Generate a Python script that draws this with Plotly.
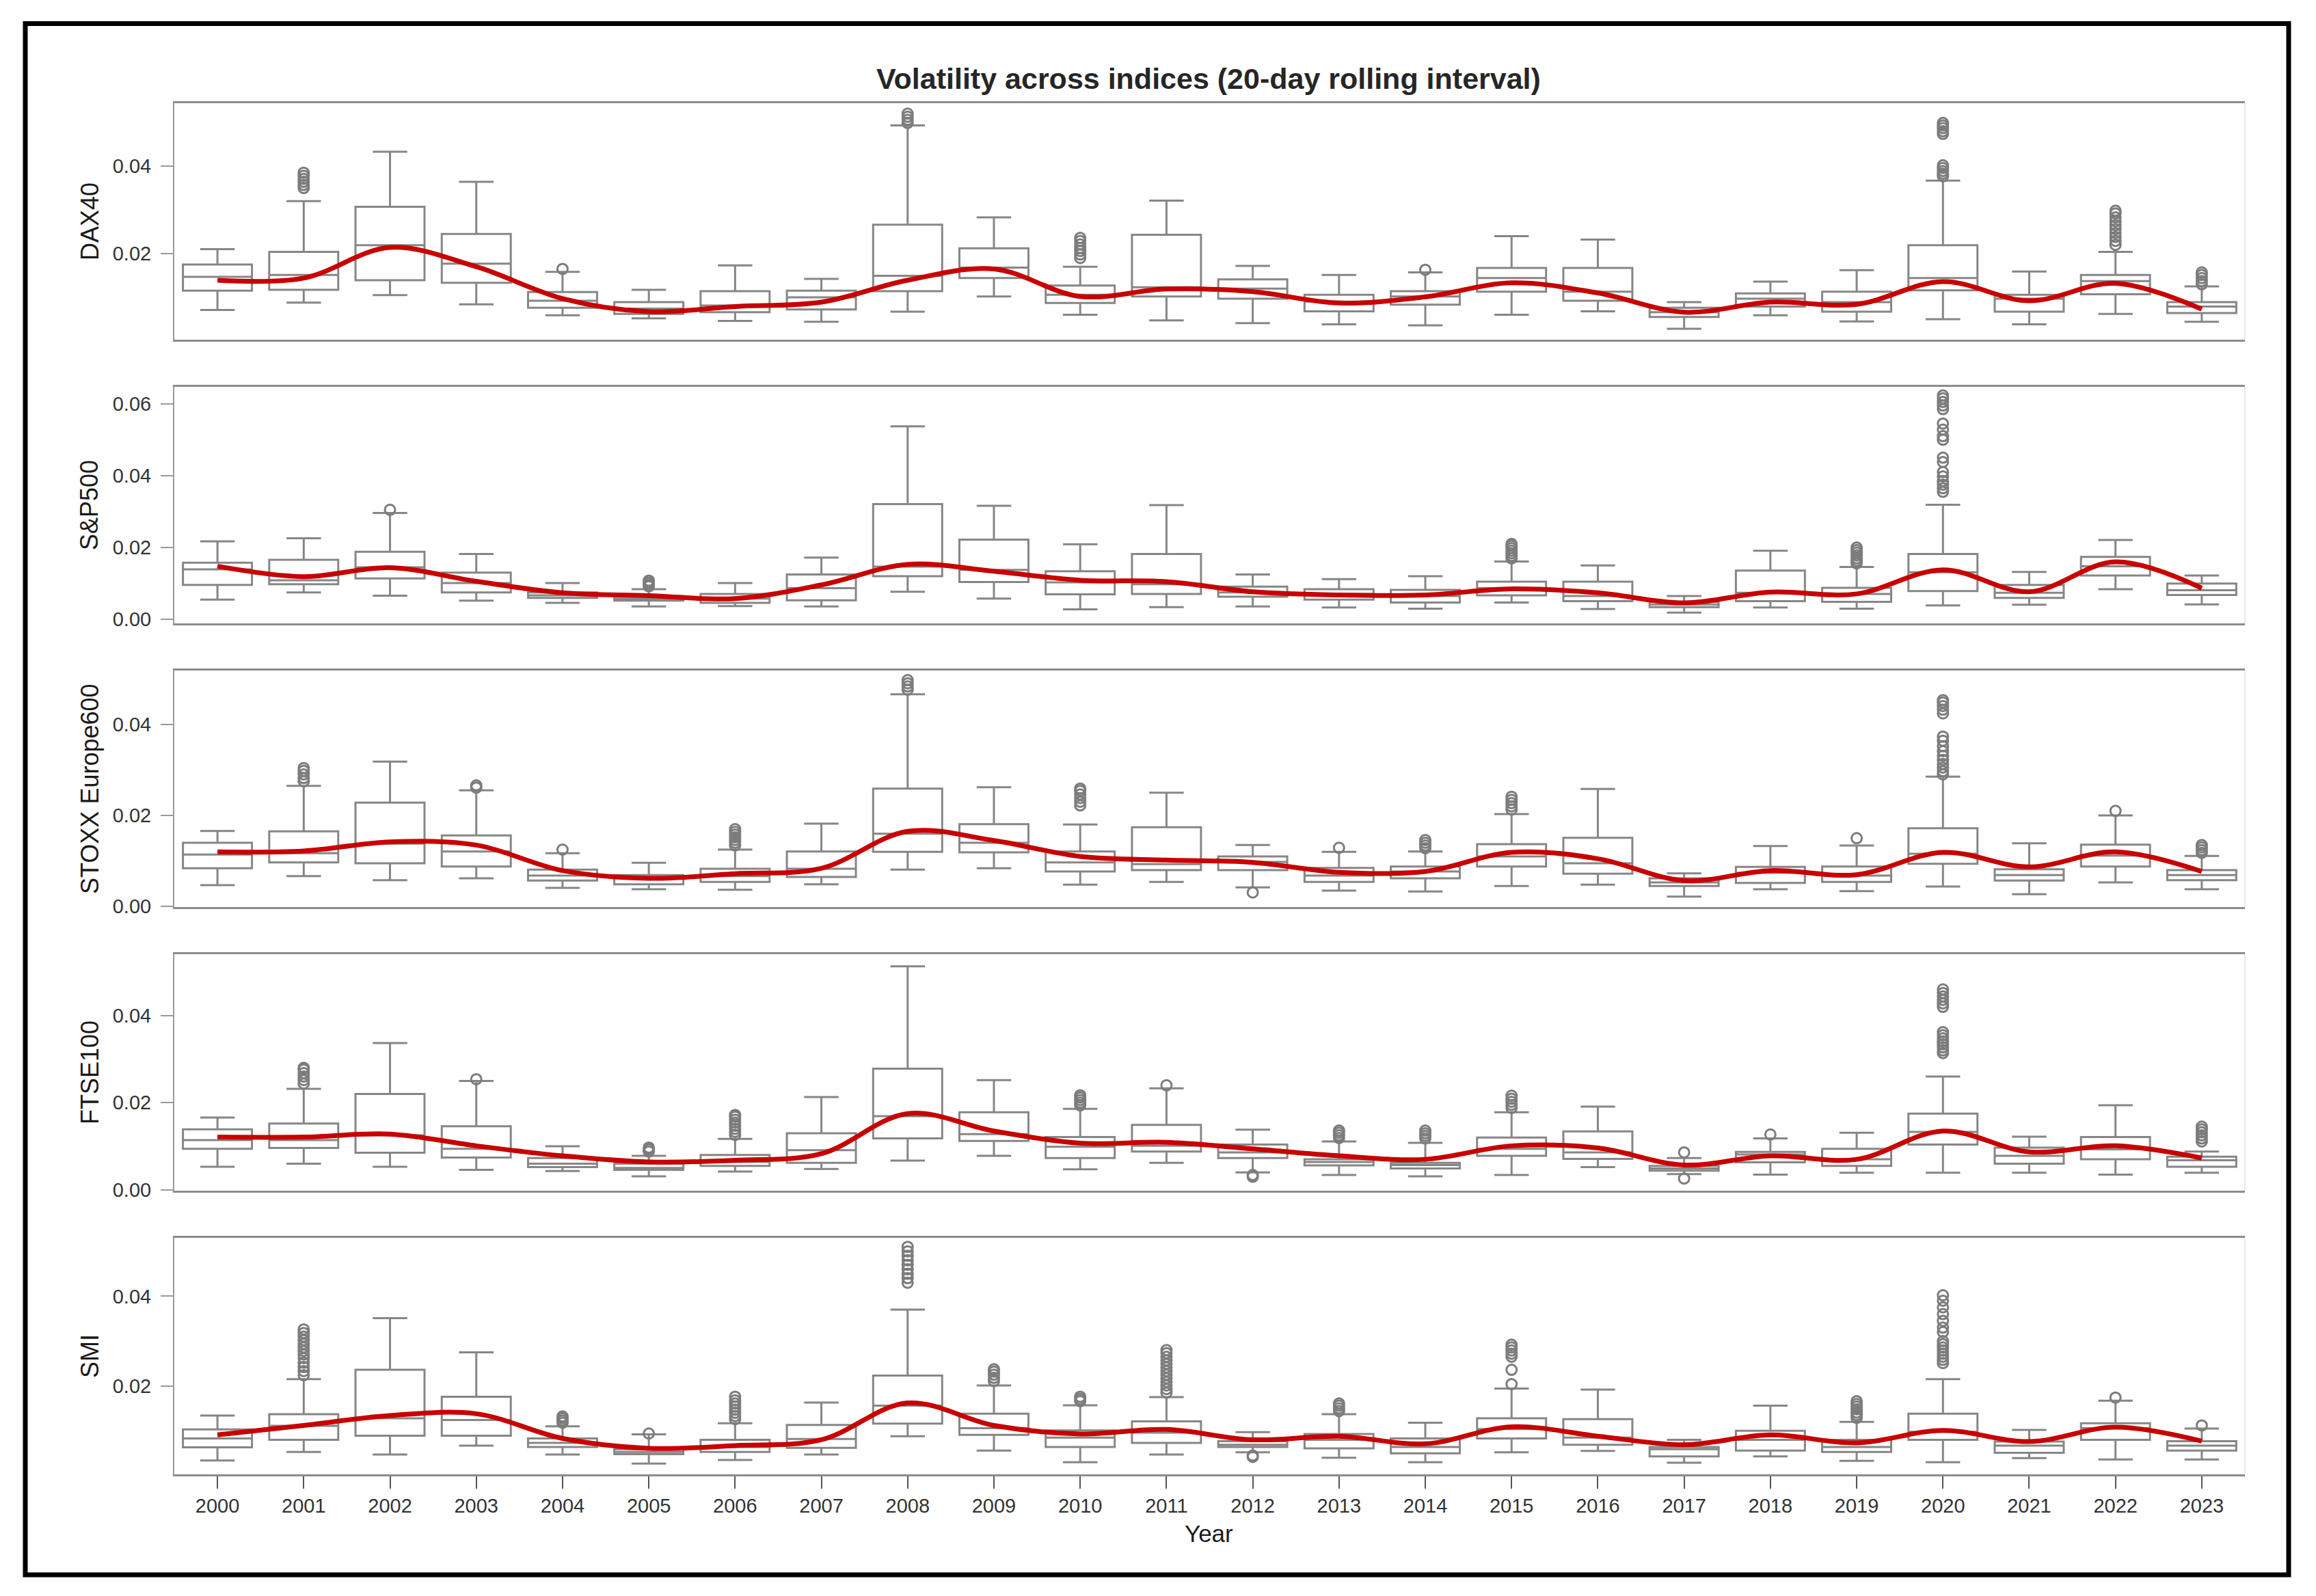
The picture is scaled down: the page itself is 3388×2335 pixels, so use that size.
import plotly.graph_objects as go
from plotly.subplots import make_subplots

years = list(range(2000, 2024))
index_names = ["DAX40", "S&P500", "STOXX Europe600", "FTSE100", "SMI"]

# ---------------- DAX40 ----------------
dax_low  = [0.0071,0.0088,0.0105,0.0084,0.0059,0.0052,0.0046,0.0044,0.0067,0.0102,0.0060,0.0047,0.0041,0.0038,0.0036,0.0060,0.0068,0.0028,0.0059,0.0045,0.0050,0.0038,0.0062,0.0044]
dax_q1   = [0.0115,0.0117,0.0139,0.0133,0.0076,0.0062,0.0066,0.0072,0.0114,0.0144,0.0087,0.0102,0.0097,0.0068,0.0083,0.0113,0.0092,0.0055,0.0079,0.0067,0.0116,0.0067,0.0107,0.0064]
dax_med  = [0.0147,0.0151,0.0219,0.0177,0.0092,0.0074,0.0081,0.0100,0.0149,0.0168,0.0106,0.0123,0.0120,0.0090,0.0102,0.0144,0.0113,0.0066,0.0097,0.0089,0.0144,0.0097,0.0137,0.0079]
dax_q3   = [0.0175,0.0204,0.0307,0.0245,0.0112,0.0089,0.0114,0.0115,0.0266,0.0212,0.0127,0.0243,0.0141,0.0106,0.0114,0.0167,0.0167,0.0076,0.0109,0.0113,0.0219,0.0106,0.0151,0.0089]
dax_high = [0.0210,0.0320,0.0433,0.0364,0.0158,0.0117,0.0173,0.0142,0.0493,0.0283,0.0170,0.0321,0.0172,0.0151,0.0157,0.0240,0.0232,0.0089,0.0136,0.0162,0.0367,0.0159,0.0204,0.0125]
dax_trend= [0.0139,0.0144,0.0214,0.0170,0.0097,0.0067,0.0079,0.0089,0.0139,0.0165,0.0102,0.0119,0.0113,0.0087,0.0101,0.0133,0.0110,0.0066,0.0089,0.0084,0.0136,0.0092,0.0132,0.0073]
dax_outliers = {
    2001: [0.0350, 0.0357, 0.0364, 0.0371, 0.0378, 0.0385],
    2004: [0.0165],
    2008: [0.0499, 0.0506, 0.0513, 0.0520],
    2010: [0.0190, 0.0198, 0.0206, 0.0213, 0.0221, 0.0229, 0.0236],
    2014: [0.0163],
    2020: [0.0377, 0.0383, 0.0389, 0.0396, 0.0402, 0.0474, 0.0480, 0.0487, 0.0493, 0.0499],
    2022: [0.0220, 0.0229, 0.0238, 0.0247, 0.0256, 0.0265, 0.0274, 0.0283, 0.0292, 0.0298],
    2023: [0.0130, 0.0137, 0.0144, 0.0151, 0.0157],
}

# ---------------- S&P500 ----------------
spx_low  = [0.0055,0.0075,0.0066,0.0052,0.0046,0.0036,0.0037,0.0036,0.0077,0.0058,0.0028,0.0034,0.0036,0.0033,0.0030,0.0047,0.0029,0.0019,0.0033,0.0030,0.0039,0.0041,0.0084,0.0042]
spx_q1   = [0.0096,0.0098,0.0114,0.0075,0.0060,0.0052,0.0046,0.0053,0.0120,0.0104,0.0070,0.0071,0.0063,0.0055,0.0047,0.0067,0.0051,0.0034,0.0051,0.0049,0.0079,0.0060,0.0122,0.0068]
spx_med  = [0.0139,0.0109,0.0145,0.0101,0.0067,0.0058,0.0058,0.0087,0.0147,0.0138,0.0103,0.0098,0.0075,0.0071,0.0065,0.0087,0.0065,0.0042,0.0074,0.0071,0.0131,0.0074,0.0148,0.0081]
spx_q3   = [0.0158,0.0166,0.0188,0.0130,0.0075,0.0065,0.0071,0.0125,0.0321,0.0222,0.0134,0.0182,0.0091,0.0084,0.0082,0.0105,0.0105,0.0049,0.0136,0.0088,0.0182,0.0096,0.0174,0.0100]
spx_high = [0.0217,0.0226,0.0296,0.0182,0.0101,0.0084,0.0101,0.0172,0.0537,0.0316,0.0209,0.0318,0.0125,0.0112,0.0120,0.0161,0.0150,0.0065,0.0191,0.0146,0.0319,0.0132,0.0221,0.0122]
spx_trend= [0.0148,0.0119,0.0144,0.0106,0.0074,0.0066,0.0058,0.0096,0.0153,0.0134,0.0109,0.0105,0.0077,0.0068,0.0068,0.0085,0.0074,0.0046,0.0076,0.0071,0.0138,0.0077,0.0160,0.0087]
spx_outliers = {
    2002: [0.0305],
    2005: [0.0092, 0.0097, 0.0102, 0.0108],
    2015: [0.0170, 0.0177, 0.0184, 0.0191, 0.0198, 0.0205, 0.0210],
    2019: [0.0156, 0.0163, 0.0170, 0.0178, 0.0186, 0.0193, 0.0200],
    2020: [0.0355, 0.0365, 0.0375, 0.0385, 0.0398, 0.0410, 0.0438, 0.0450, 0.0500, 0.0510,
           0.0528, 0.0545, 0.0585, 0.0595, 0.0605, 0.0615, 0.0623],
}

# ---------------- STOXX Europe600 ----------------
stoxx_low  = [0.0047,0.0067,0.0058,0.0062,0.0041,0.0038,0.0037,0.0049,0.0081,0.0084,0.0048,0.0054,0.0042,0.0035,0.0033,0.0045,0.0048,0.0022,0.0038,0.0034,0.0044,0.0027,0.0053,0.0038]
stoxx_q1   = [0.0084,0.0097,0.0095,0.0088,0.0057,0.0049,0.0054,0.0065,0.0120,0.0119,0.0077,0.0080,0.0080,0.0054,0.0062,0.0088,0.0072,0.0045,0.0052,0.0054,0.0094,0.0057,0.0088,0.0058]
stoxx_med  = [0.0114,0.0117,0.0138,0.0121,0.0068,0.0062,0.0067,0.0083,0.0160,0.0140,0.0097,0.0093,0.0098,0.0068,0.0077,0.0110,0.0095,0.0053,0.0074,0.0068,0.0116,0.0069,0.0112,0.0069]
stoxx_q3   = [0.0140,0.0165,0.0228,0.0156,0.0081,0.0069,0.0083,0.0121,0.0259,0.0181,0.0121,0.0174,0.0110,0.0085,0.0088,0.0137,0.0151,0.0062,0.0087,0.0088,0.0172,0.0082,0.0136,0.0080]
stoxx_high = [0.0166,0.0265,0.0318,0.0255,0.0117,0.0096,0.0125,0.0182,0.0466,0.0262,0.0180,0.0250,0.0135,0.0120,0.0121,0.0203,0.0258,0.0073,0.0133,0.0134,0.0285,0.0139,0.0200,0.0111]
stoxx_trend= [0.0120,0.0122,0.0142,0.0135,0.0079,0.0062,0.0072,0.0084,0.0165,0.0145,0.0110,0.0102,0.0097,0.0075,0.0077,0.0119,0.0105,0.0057,0.0079,0.0070,0.0119,0.0087,0.0120,0.0077]
stoxx_outliers = {
    2001: [0.0275, 0.0282, 0.0290, 0.0298, 0.0304],
    2003: [0.0261, 0.0266],
    2004: [0.0125],
    2006: [0.0134, 0.0140, 0.0146, 0.0152, 0.0158, 0.0164, 0.0170],
    2008: [0.0476, 0.0483, 0.0490, 0.0497],
    2010: [0.0222, 0.0230, 0.0238, 0.0246, 0.0254, 0.0259],
    2012: [0.0031],
    2013: [0.0129],
    2014: [0.0128, 0.0134, 0.0140, 0.0146],
    2015: [0.0213, 0.0220, 0.0227, 0.0234, 0.0241],
    2019: [0.0150],
    2020: [0.0290, 0.0297, 0.0305, 0.0313, 0.0322, 0.0331, 0.0341, 0.0352, 0.0364, 0.0373,
           0.0424, 0.0432, 0.0440, 0.0448, 0.0453],
    2022: [0.0210],
    2023: [0.0118, 0.0124, 0.0130, 0.0135],
}

# ---------------- FTSE100 ----------------
ftse_low  = [0.0053,0.0060,0.0053,0.0046,0.0043,0.0031,0.0042,0.0048,0.0067,0.0078,0.0047,0.0062,0.0040,0.0034,0.0031,0.0034,0.0052,0.0036,0.0035,0.0039,0.0039,0.0039,0.0035,0.0039]
ftse_q1   = [0.0094,0.0096,0.0085,0.0074,0.0052,0.0046,0.0055,0.0062,0.0118,0.0112,0.0073,0.0088,0.0073,0.0056,0.0049,0.0078,0.0071,0.0044,0.0063,0.0055,0.0104,0.0060,0.0070,0.0053]
ftse_med  = [0.0114,0.0114,0.0125,0.0094,0.0060,0.0050,0.0064,0.0091,0.0169,0.0128,0.0099,0.0101,0.0086,0.0064,0.0057,0.0094,0.0086,0.0049,0.0081,0.0070,0.0133,0.0078,0.0093,0.0068]
ftse_q3   = [0.0139,0.0152,0.0220,0.0146,0.0073,0.0060,0.0080,0.0130,0.0278,0.0178,0.0121,0.0149,0.0104,0.0070,0.0062,0.0120,0.0134,0.0055,0.0087,0.0094,0.0175,0.0097,0.0121,0.0076]
ftse_high = [0.0166,0.0232,0.0337,0.0250,0.0100,0.0078,0.0117,0.0213,0.0513,0.0252,0.0186,0.0233,0.0138,0.0111,0.0108,0.0178,0.0191,0.0073,0.0118,0.0131,0.0260,0.0122,0.0194,0.0088]
ftse_trend= [0.0121,0.0121,0.0128,0.0101,0.0078,0.0064,0.0068,0.0083,0.0175,0.0135,0.0107,0.0109,0.0094,0.0078,0.0070,0.0101,0.0096,0.0057,0.0078,0.0070,0.0135,0.0087,0.0101,0.0073]
ftse_outliers = {
    2001: [0.0244, 0.0252, 0.0260, 0.0268, 0.0276, 0.0280],
    2003: [0.0254],
    2005: [0.0088, 0.0093, 0.0097],
    2006: [0.0126, 0.0133, 0.0140, 0.0147, 0.0154, 0.0161, 0.0168, 0.0172],
    2010: [0.0194, 0.0200, 0.0206, 0.0212, 0.0217],
    2011: [0.0240],
    2012: [0.0030, 0.0034],
    2013: [0.0119, 0.0125, 0.0131, 0.0136],
    2014: [0.0118, 0.0124, 0.0130, 0.0136],
    2015: [0.0188, 0.0195, 0.0202, 0.0209, 0.0216],
    2017: [0.0086, 0.0026],
    2018: [0.0127],
    2020: [0.0314, 0.0320, 0.0327, 0.0334, 0.0341, 0.0348, 0.0355, 0.0362,
           0.0420, 0.0428, 0.0436, 0.0444, 0.0452, 0.0460],
    2023: [0.0111, 0.0118, 0.0125, 0.0132, 0.0139, 0.0145],
}

# ---------------- SMI ----------------
smi_low  = [0.0034,0.0053,0.0047,0.0067,0.0047,0.0027,0.0035,0.0047,0.0088,0.0056,0.0030,0.0047,0.0052,0.0040,0.0030,0.0052,0.0055,0.0029,0.0043,0.0033,0.0030,0.0039,0.0036,0.0036]
smi_q1   = [0.0063,0.0080,0.0089,0.0089,0.0064,0.0048,0.0053,0.0062,0.0116,0.0091,0.0064,0.0073,0.0064,0.0061,0.0050,0.0083,0.0069,0.0043,0.0056,0.0053,0.0080,0.0051,0.0080,0.0056]
smi_med  = [0.0083,0.0111,0.0128,0.0124,0.0073,0.0053,0.0064,0.0082,0.0156,0.0106,0.0085,0.0096,0.0069,0.0080,0.0064,0.0104,0.0085,0.0059,0.0080,0.0064,0.0098,0.0067,0.0106,0.0067]
smi_q3   = [0.0103,0.0137,0.0236,0.0176,0.0083,0.0059,0.0080,0.0113,0.0223,0.0138,0.0101,0.0121,0.0077,0.0093,0.0083,0.0128,0.0126,0.0064,0.0100,0.0080,0.0138,0.0076,0.0117,0.0077]
smi_high = [0.0134,0.0215,0.0351,0.0275,0.0110,0.0092,0.0117,0.0163,0.0370,0.0201,0.0157,0.0175,0.0097,0.0137,0.0118,0.0194,0.0192,0.0080,0.0156,0.0120,0.0215,0.0102,0.0167,0.0105]
smi_trend= [0.0091,0.0112,0.0134,0.0138,0.0083,0.0061,0.0067,0.0080,0.0162,0.0112,0.0093,0.0103,0.0080,0.0088,0.0071,0.0109,0.0088,0.0069,0.0091,0.0073,0.0101,0.0076,0.0108,0.0077]
smi_outliers = {
    2001: [0.0224, 0.0233, 0.0242, 0.0252, 0.0262, 0.0270, 0.0278, 0.0286, 0.0294, 0.0302, 0.0310, 0.0318, 0.0326],
    2004: [0.0118, 0.0123, 0.0128, 0.0132],
    2005: [0.0094],
    2006: [0.0126, 0.0133, 0.0140, 0.0147, 0.0154, 0.0161, 0.0168, 0.0176],
    2008: [0.0430, 0.0440, 0.0450, 0.0460, 0.0470, 0.0480, 0.0490, 0.0500, 0.0510],
    2009: [0.0211, 0.0218, 0.0225, 0.0232, 0.0237],
    2010: [0.0166, 0.0171, 0.0176],
    2011: [0.0185, 0.0193, 0.0201, 0.0209, 0.0217, 0.0225, 0.0233, 0.0241, 0.0249, 0.0257, 0.0265, 0.0273, 0.0280],
    2012: [0.0042, 0.0045],
    2013: [0.0144, 0.0150, 0.0156, 0.0161],
    2015: [0.0204, 0.0236, 0.0265, 0.0272, 0.0279, 0.0286, 0.0292],
    2019: [0.0129, 0.0135, 0.0141, 0.0148, 0.0154, 0.0160, 0.0166],
    2020: [0.0251, 0.0258, 0.0265, 0.0272, 0.0279, 0.0286, 0.0293, 0.0300, 0.0320, 0.0330,
           0.0345, 0.0360, 0.0375, 0.0390, 0.0402],
    2022: [0.0174],
    2023: [0.0112],
}

y_ranges = [[0.0003, 0.0544], [-0.0011, 0.0647], [-0.0001, 0.0518], [-0.0002, 0.0541], [0.0003, 0.0530]]
y_ticks = [[0.02, 0.04], [0.0, 0.02, 0.04, 0.06], [0.0, 0.02, 0.04], [0.0, 0.02, 0.04], [0.02, 0.04]]

panels = [
    (dax_low, dax_q1, dax_med, dax_q3, dax_high, dax_trend, dax_outliers),
    (spx_low, spx_q1, spx_med, spx_q3, spx_high, spx_trend, spx_outliers),
    (stoxx_low, stoxx_q1, stoxx_med, stoxx_q3, stoxx_high, stoxx_trend, stoxx_outliers),
    (ftse_low, ftse_q1, ftse_med, ftse_q3, ftse_high, ftse_trend, ftse_outliers),
    (smi_low, smi_q1, smi_med, smi_q3, smi_high, smi_trend, smi_outliers),
]

# ---------------- layout geometry (pixels) ----------------
W, H = 3388, 2335
ML, MR, MT, MB = 255, 104, 151, 178
PW = W - ML - MR
PH = H - MT - MB
PANEL_H, GAP = 346, 69

FONT = "Liberation Sans, Arial, sans-serif"
BOX_COLOR = "#868686"
RED = "#c80000"

fig = make_subplots(rows=5, cols=1, vertical_spacing=GAP / PH)

for i, (lo, q1, med, q3, hi, trend, outl) in enumerate(panels):
    r = i + 1
    fig.add_trace(go.Box(
        x=years, q1=q1, median=med, q3=q3, lowerfence=lo, upperfence=hi,
        width=0.8, whiskerwidth=0.5, fillcolor="white",
        line=dict(color=BOX_COLOR, width=3), boxpoints=False,
        showlegend=False, hoverinfo="skip",
    ), row=r, col=1)
    ox, oy = [], []
    for yr, vals in outl.items():
        for v in vals:
            ox.append(yr)
            oy.append(v)
    fig.add_trace(go.Scatter(
        x=ox, y=oy, mode="markers",
        marker=dict(symbol="circle-open", size=15, color="#7c7c7c", line=dict(width=3, color="#7c7c7c")),
        showlegend=False, hoverinfo="skip",
    ), row=r, col=1)
    fig.add_trace(go.Scatter(
        x=years, y=trend, mode="lines",
        line=dict(color=RED, width=7, shape="spline", smoothing=1.0),
        showlegend=False, hoverinfo="skip",
    ), row=r, col=1)

    fig.update_yaxes(
        range=y_ranges[i], tickvals=y_ticks[i], tickformat=".2f",
        ticks="outside", ticklen=18, tickwidth=2, tickcolor="#9a9a9a",
        ticklabelstandoff=8,
        tickfont=dict(family=FONT, size=29, color="#333333"),
        showline=True, mirror=False, linecolor="#9a9a9a", linewidth=2,
        showgrid=False, zeroline=False, row=r, col=1,
    )
    xa = dict(
        range=[1999.5, 2023.5], tickvals=years, ticktext=[str(y) for y in years],
        showline=True, mirror=True, linecolor="#8c8c8c", linewidth=2.5,
        showgrid=False, zeroline=False,
    )
    if r < 5:
        xa.update(showticklabels=False, ticks="")
    else:
        xa.update(ticks="outside", ticklen=18, tickwidth=2, tickcolor="#555555",
                  ticklabelstandoff=0,
                  tickfont=dict(family=FONT, size=29, color="#333333"))
    fig.update_xaxes(row=r, col=1, **xa)

    # light right-hand panel border
    xref = "x domain" if r == 1 else f"x{r} domain"
    yref = "y domain" if r == 1 else f"y{r} domain"
    fig.add_shape(type="line", xref=xref, yref=yref, x0=1, x1=1, y0=0, y1=1,
                  line=dict(color="#e2e2e2", width=1.5))

    # y-axis title (centered on panel)
    top_px = MT + i * (PANEL_H + GAP)
    center_px = top_px + PANEL_H / 2
    fig.add_annotation(
        text=index_names[i], xref="paper", yref="paper",
        x=(131 - ML) / PW, y=(H - MB - center_px) / PH,
        xanchor="center", yanchor="middle", textangle=-90, showarrow=False,
        font=dict(family=FONT, size=36, color="#1a1a1a"),
    )

# x-axis title
fig.add_annotation(
    text="Year", xref="paper", yref="paper",
    x=(1768 - ML) / PW, y=(H - MB - 2243) / PH,
    xanchor="center", yanchor="middle", showarrow=False,
    font=dict(family=FONT, size=35, color="#1a1a1a"),
)

# outer black frame
fig.add_shape(
    type="rect", xref="paper", yref="paper",
    x0=(37 - ML) / PW, x1=(3348 - ML) / PW,
    y0=(H - MB - 2304) / PH, y1=(H - MB - 34.5) / PH,
    line=dict(color="black", width=7), fillcolor="rgba(0,0,0,0)", layer="above",
)

fig.update_layout(
    width=W, height=H,
    margin=dict(l=ML, r=MR, t=MT, b=MB),
    paper_bgcolor="white", plot_bgcolor="white",
    title=dict(
        text="Volatility across indices (20-day rolling interval)",
        x=(1768 - ML) / PW, xref="paper", xanchor="center",
        y=1 - 115 / H, yref="container", yanchor="middle",
        font=dict(family=FONT, size=43, color="#262626", weight="bold"),
    ),
    font=dict(family=FONT),
)

fig.write_html("out.html")
